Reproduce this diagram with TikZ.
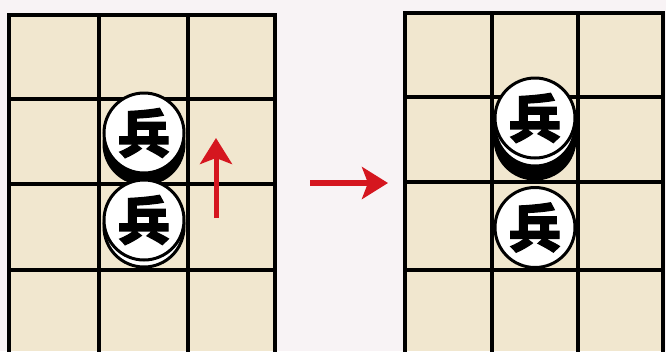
\documentclass[tikz,border=0pt]{standalone}
\usepackage{fontspec}
\newfontfamily\cjk{Noto Sans CJK SC}[FakeBold=2.5]
\usetikzlibrary{arrows.meta}
\definecolor{bgpink}{HTML}{F8F3F5}
\definecolor{boardbeige}{HTML}{F1E7CF}
\definecolor{arrowred}{HTML}{D5161F}
\tikzset{
  gridline/.style={line width=3.5pt, black},
  face/.style={circle, draw=black, line width=3pt, fill=white, minimum size=80pt, inner sep=0pt,
    font=\cjk\bfseries\fontsize{52}{52}\selectfont},
  rim/.style={draw=black, line width=3pt, fill=white},
  shadowdisc/.style={fill=black},
  movearrow/.style={draw=arrowred, line width=6pt, -{Stealth[length=26pt, width=32pt, inset=6pt]}}
}
\begin{document}
\begin{tikzpicture}[x=1pt, y=-1pt]
\useasboundingbox (0,0) rectangle (666,351);
\fill[bgpink] (0,0) rectangle (666,351);
% left board
\fill[boardbeige] (9,15) rectangle (275,351);
\foreach \x in {9,99,188,275} \draw[gridline] (\x,13.25) -- (\x,352);
\foreach \y in {15,99,184,270} \draw[gridline] (7.25,\y) -- (276.75,\y);
% right board
\fill[boardbeige] (405,13) rectangle (663,351);
\foreach \x in {405,492,578,663} \draw[gridline] (\x,11.25) -- (\x,352);
\foreach \y in {13,97,182,270} \draw[gridline] (403.25,\y) -- (664.75,\y);
% left pieces
\fill[shadowdisc] (144,144) circle (41.5);
\node[face] (L1) at (144,133) {兵};
\draw[rim] (144,227) circle (40);
\node[face] (L2) at (144,220) {兵};
% right pieces
\fill[shadowdisc] (535,139) circle (41.5);
\draw[rim] (535,126) circle (40);
\node[face] (R1) at (535,118) {兵};
\node[face] (R2) at (535,227.5) {兵};
% arrows
\coordinate (upS) at (216,218);
\coordinate (upE) at (216,138);
\draw[movearrow, line width=5pt] (upS) -- (upE);
\coordinate (rtS) at (310,183);
\coordinate (rtE) at (388,183);
\draw[movearrow] (rtS) -- (rtE);
\end{tikzpicture}
\end{document}
